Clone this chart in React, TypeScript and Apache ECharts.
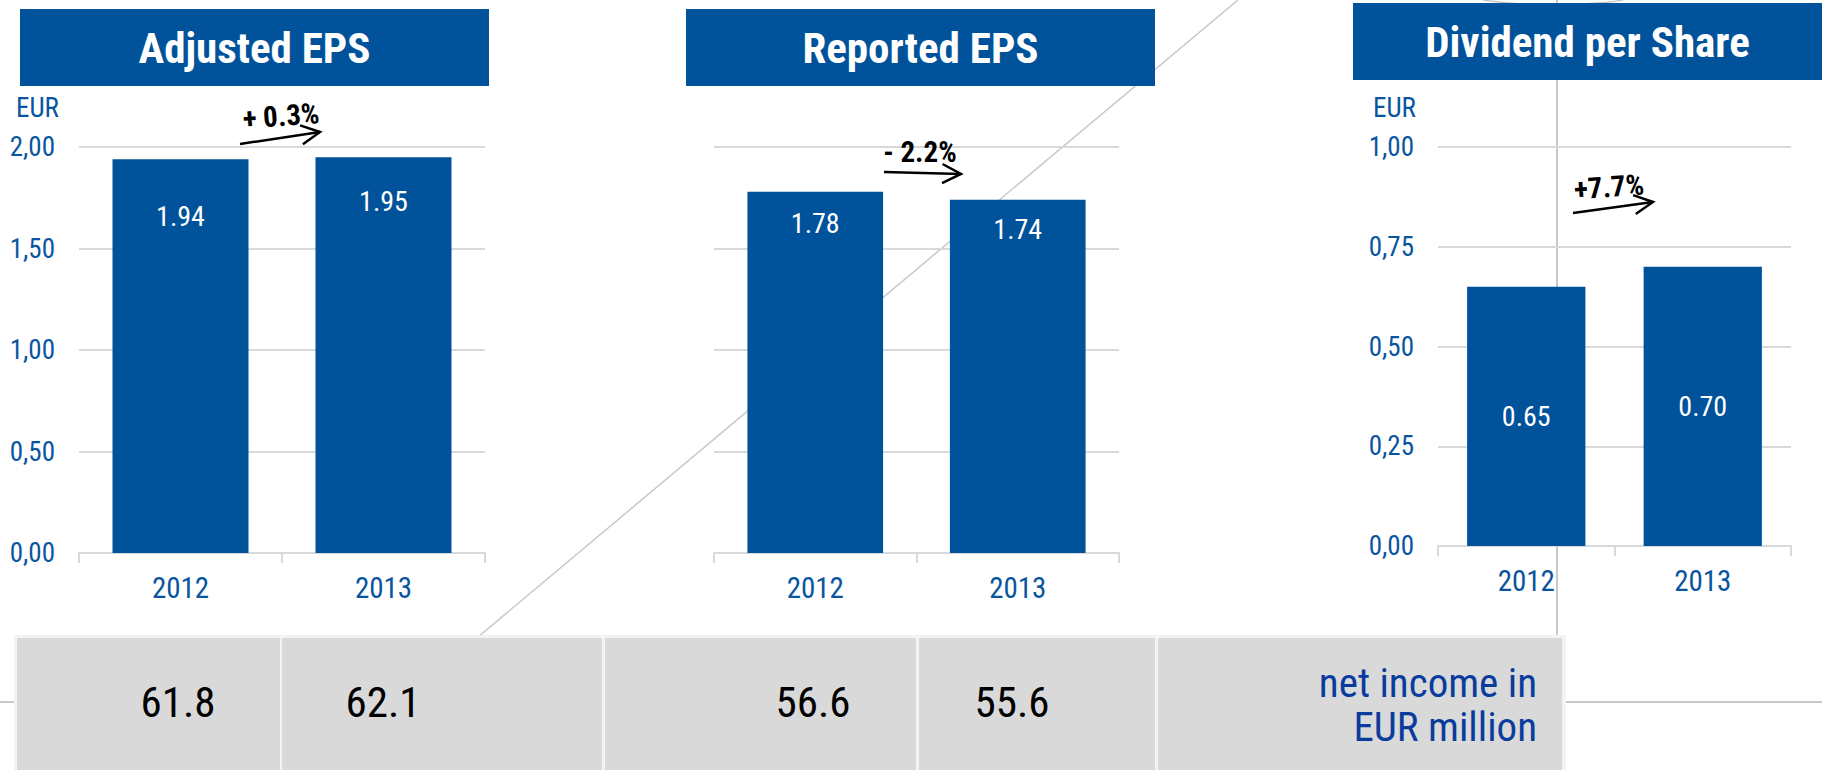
import React, { useEffect, useRef } from "react";
import * as echarts from "echarts";

// ---- data ----
const categories = ["2012", "2013"];
const adjustedEps = [1.94, 1.95];
const reportedEps = [1.78, 1.74];
const dividendPerShare = [0.65, 0.7];
const netIncomeAdjusted = [61.8, 62.1];
const netIncomeReported = [56.6, 55.6];
const chartTitles = ["Adjusted EPS", "Reported EPS", "Dividend per Share"];
const changeLabels = ["+ 0.3%", "- 2.2%", "+7.7%"];
const epsAxis = { max: 2, interval: 0.5 };
const dividendAxis = { max: 1, interval: 0.25 };
const unitLabel = "EUR";
const tableNoteLines = ["net income in", "EUR million"];

// ---- styles / layout ----
const BLUE = "#00529b";
const AXIS_BLUE = "#0a55a0";
const NOTE_BLUE = "#0a3c9e";
const GRID = "#d9d9d9";
const CELL = "#d9d9d9";
const LINE = "#c8c8c8";
const FONT =
  '"Liberation Sans Narrow", "Arial Narrow", "Roboto Condensed", "Liberation Sans", Arial, sans-serif';
const adjustedLabelDist = [43, 30];
const reportedLabelDist = [18, 16];

const fmtComma = (v: number) => v.toFixed(2).replace(".", ",");

export default function App() {
  const ref = useRef<HTMLDivElement>(null);

  useEffect(() => {
    if (!ref.current) return;
    const chart = echarts.init(ref.current, undefined, { renderer: "svg" });

    const xAxisBase = (gridIndex: number) => ({
      type: "category" as const,
      gridIndex,
      data: categories,
      axisLine: { lineStyle: { color: GRID, width: 2 } },
      axisTick: { show: true, length: 10, lineStyle: { color: GRID, width: 2 } },
      axisLabel: { color: AXIS_BLUE, fontSize: 29, margin: 20, fontFamily: FONT },
    });

    const yAxisBase = (gridIndex: number, cfg: { max: number; interval: number }, showLabels: boolean) => ({
      type: "value" as const,
      gridIndex,
      min: 0,
      max: cfg.max,
      interval: cfg.interval,
      axisLine: { show: false },
      axisTick: { show: false },
      splitLine: { lineStyle: { color: GRID, width: 2 } },
      axisLabel: {
        show: showLabels,
        color: AXIS_BLUE,
        fontSize: 27,
        margin: 24,
        fontFamily: FONT,
        formatter: (v: number) => fmtComma(v),
      },
    });

    const barLabel = {
      show: true,
      color: "#ffffff",
      fontSize: 28,
      fontFamily: FONT,
      formatter: (p: any) => Number(p.value).toFixed(2),
    };

    const titleBox = (x: number, y: number, w: number, h: number, text: string) => ({
      type: "group",
      children: [
        { type: "rect", z: 10, shape: { x, y, width: w, height: h }, style: { fill: BLUE } },
        {
          type: "text",
          z: 11,
          x: x + w / 2,
          y: y + h / 2,
          style: {
            text,
            fill: "#ffffff",
            font: `bold 43px ${FONT}`,
            textAlign: "center",
            textVerticalAlign: "middle",
          },
        },
      ],
    });

    const arrow = (x1: number, y1: number, x2: number, y2: number) => {
      const dx = x2 - x1;
      const dy = y2 - y1;
      const len = Math.hypot(dx, dy);
      const ux = dx / len;
      const uy = dy / len;
      const a = (27 * Math.PI) / 180;
      const hl = 21;
      const r1 = [ux * Math.cos(a) - uy * Math.sin(a), ux * Math.sin(a) + uy * Math.cos(a)];
      const r2 = [ux * Math.cos(-a) - uy * Math.sin(-a), ux * Math.sin(-a) + uy * Math.cos(-a)];
      return [
        { type: "line", z: 11, shape: { x1, y1, x2, y2 }, style: { stroke: "#000", lineWidth: 2.5 } },
        {
          type: "polyline",
          z: 11,
          shape: {
            points: [
              [x2 - hl * r1[0], y2 - hl * r1[1]],
              [x2, y2],
              [x2 - hl * r2[0], y2 - hl * r2[1]],
            ],
          },
          style: { stroke: "#000", lineWidth: 2.5, fill: "none" },
        },
      ];
    };

    const changeText = (x: number, y: number, text: string, rotation: number) => ({
      type: "text",
      z: 11,
      x,
      y,
      rotation,
      style: {
        text,
        fill: "#000",
        font: `bold 29px ${FONT}`,
        textAlign: "center",
        textVerticalAlign: "middle",
      },
    });

    const cell = (x: number, w: number) => ({
      type: "rect",
      z: 5,
      shape: { x, y: 638, width: w, height: 140 },
      style: { fill: CELL },
    });

    const cellValue = (x: number, v: number) => ({
      type: "text",
      z: 6,
      x,
      y: 702,
      style: {
        text: v.toFixed(1),
        fill: "#000",
        font: `43px ${FONT}`,
        textAlign: "center",
        textVerticalAlign: "middle",
      },
    });

    const noteLine = (y: number, text: string) => ({
      type: "text",
      z: 6,
      x: 1537,
      y,
      style: {
        text,
        fill: NOTE_BLUE,
        font: `41px ${FONT}`,
        textAlign: "right",
        textVerticalAlign: "middle",
      },
    });

    const option: any = {
      animation: false,
      backgroundColor: "#ffffff",
      grid: [
        { left: 79, top: 147, width: 406, height: 406 },
        { left: 714, top: 147, width: 405, height: 406 },
        { left: 1438, top: 147, width: 353, height: 399 },
      ],
      xAxis: [xAxisBase(0), xAxisBase(1), xAxisBase(2)],
      yAxis: [yAxisBase(0, epsAxis, true), yAxisBase(1, epsAxis, false), yAxisBase(2, dividendAxis, true)],
      series: [
        {
          type: "bar",
          xAxisIndex: 0,
          yAxisIndex: 0,
          barCategoryGap: "33%",
          itemStyle: { color: BLUE },
          data: adjustedEps.map((v, i) => ({ value: v, label: { distance: adjustedLabelDist[i] } })),
          label: { ...barLabel, position: "insideTop" },
        },
        {
          type: "bar",
          xAxisIndex: 1,
          yAxisIndex: 1,
          barCategoryGap: "33%",
          itemStyle: { color: BLUE },
          data: reportedEps.map((v, i) => ({ value: v, label: { distance: reportedLabelDist[i] } })),
          label: { ...barLabel, position: "insideTop" },
        },
        {
          type: "bar",
          xAxisIndex: 2,
          yAxisIndex: 2,
          barCategoryGap: "33%",
          itemStyle: { color: BLUE },
          data: dividendPerShare,
          label: { ...barLabel, position: "inside" },
        },
      ],
      graphic: [
        // background decoration lines
        { type: "line", z: 0, shape: { x1: 1238, y1: 0, x2: 478, y2: 637 }, style: { stroke: LINE, lineWidth: 1.5 } },
        { type: "line", z: 0, shape: { x1: 1557, y1: 0, x2: 1557, y2: 637 }, style: { stroke: LINE, lineWidth: 2 } },
        { type: "line", z: 0, shape: { x1: 0, y1: 702, x2: 1822, y2: 702 }, style: { stroke: LINE, lineWidth: 2 } },
        {
          type: "bezierCurve",
          z: 0,
          shape: { x1: 1483, y1: 0, cpx1: 1520, cpy1: 6, cpx2: 1590, cpy2: 6, x2: 1623, y2: 0 },
          style: { stroke: LINE, lineWidth: 1.5, fill: "none" },
        },
        // title boxes
        titleBox(20, 9, 469, 77, chartTitles[0]),
        titleBox(686, 9, 469, 77, chartTitles[1]),
        titleBox(1353, 3, 469, 77, chartTitles[2]),
        // unit labels
        {
          type: "text",
          z: 11,
          x: 16,
          y: 108,
          style: { text: unitLabel, fill: AXIS_BLUE, font: `27px ${FONT}`, textVerticalAlign: "middle" },
        },
        {
          type: "text",
          z: 11,
          x: 1373,
          y: 108,
          style: { text: unitLabel, fill: AXIS_BLUE, font: `27px ${FONT}`, textVerticalAlign: "middle" },
        },
        // change annotations
        changeText(281, 116, changeLabels[0], 0.07),
        ...arrow(240, 144, 320, 132),
        changeText(920, 152, changeLabels[1], 0),
        ...arrow(884, 172, 961, 174),
        changeText(1609, 187, changeLabels[2], 0.07),
        ...arrow(1573, 213, 1653, 202),
        // table
        { type: "rect", z: 4, shape: { x: 14, y: 635, width: 1552, height: 140 }, style: { fill: "#f3f3f3" } },
        cell(17, 263),
        cell(282, 320),
        cell(605, 311),
        cell(919, 236),
        cell(1158, 404),
        cellValue(178, netIncomeAdjusted[0]),
        cellValue(383, netIncomeAdjusted[1]),
        cellValue(813, netIncomeReported[0]),
        cellValue(1012, netIncomeReported[1]),
        noteLine(683, tableNoteLines[0]),
        noteLine(727, tableNoteLines[1]),
      ],
    };

    chart.setOption(option);
    return () => chart.dispose();
  }, []);

  return (
    <div
      ref={ref}
      style={{ position: "absolute", left: 0, top: 0, width: 1822, height: 770, background: "#fff" }}
    />
  );
}
